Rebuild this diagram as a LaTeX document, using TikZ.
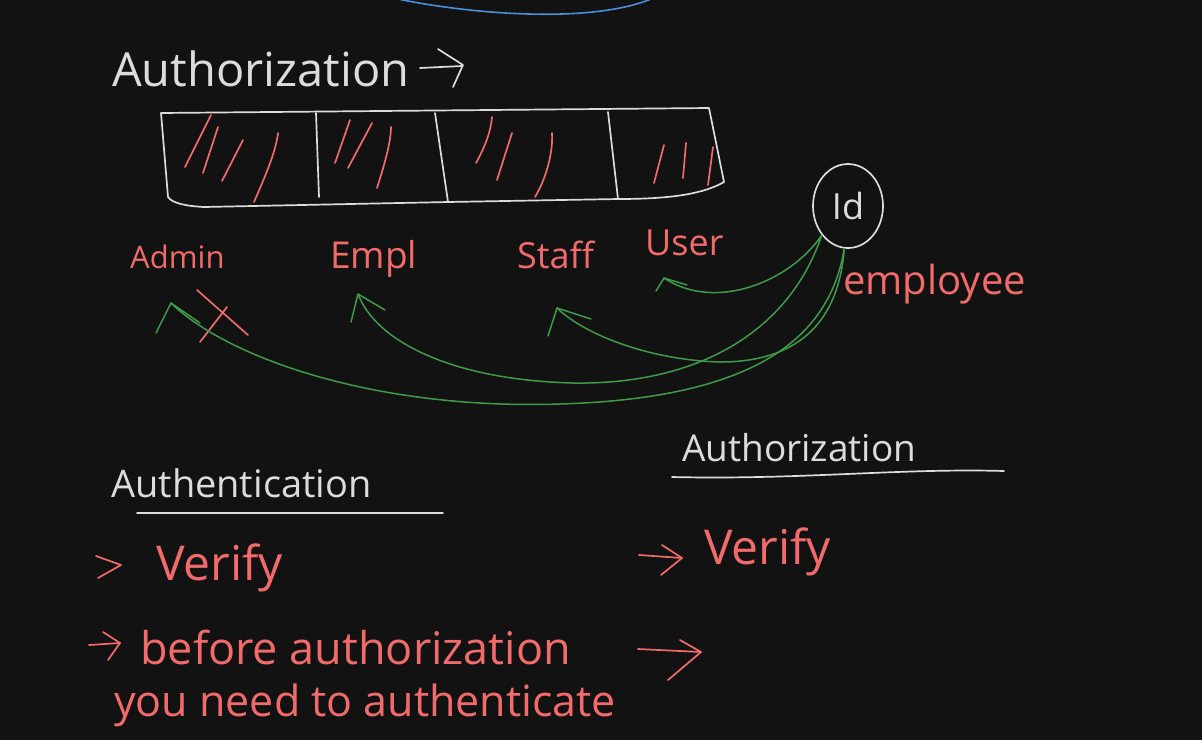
\documentclass[tikz,border=0pt]{standalone}
\usepackage{fontspec}
\setmainfont{Open Sans}
\usetikzlibrary{shapes.geometric,arrows.meta}
\definecolor{bg}{HTML}{121212}
\definecolor{inkw}{HTML}{DCDCDC}
\definecolor{inkr}{HTML}{F26B6B}
\definecolor{inkg}{HTML}{3F9B4A}
\definecolor{inkb}{HTML}{4A8FDC}
\tikzset{
  whiteink/.style={draw=inkw, line width=1.7pt, line cap=round, line join=round},
  redink/.style={draw=inkr, line width=1.7pt, line cap=round, line join=round},
  greenink/.style={draw=inkg, line width=1.5pt, line cap=round, line join=round},
  wtext/.style={text=inkw, anchor=base west, inner sep=0pt},
  rtext/.style={text=inkr, anchor=base west, inner sep=0pt},
}
\begin{document}
\begin{tikzpicture}[x=1pt,y=-1pt]
\fill[bg] (0,0) rectangle (1202,740);
\useasboundingbox (0,0) rectangle (1202,740);

% blue arc at top
\draw[draw=inkb, line width=1.6pt] (398,-1) .. controls (470,14) and (590,24) .. (651,-1);

% title
\node[wtext, font=\fontsize{47}{54}\selectfont] (title) at (112,86) {Authorization};
\coordinate (ta1) at (420,68);
\coordinate (ta2) at (462,66);
\draw[whiteink] (ta1) -- (ta2);
\draw[whiteink] (438,49) -- (463,65) -- (453,87);

% box
\draw[whiteink] (161,113) -- (709,108) -- (724,182) .. controls (700,196) and (660,199) .. (618,199)
  -- (448,202) -- (204,207) .. controls (185,206) and (172,203) .. (168,197) -- cycle;
\draw[whiteink] (316,113) -- (319,197);
\draw[whiteink] (435,113) -- (448,202);
\draw[whiteink] (608,112) -- (618,199);

% red slashes
\draw[redink] (185,167) -- (211,115);
\draw[redink] (203,173) -- (218,127);
\draw[redink] (222,181) -- (243,140);
\draw[redink] (254,202) .. controls (268,170) and (276,150) .. (278,133);
\draw[redink] (335,163) -- (350,120);
\draw[redink] (348,168) -- (372,123);
\draw[redink] (377,188) .. controls (386,160) and (391,140) .. (391,127);
\draw[redink] (476,163) .. controls (486,145) and (491,130) .. (492,117);
\draw[redink] (497,180) -- (512,133);
\draw[redink] (535,197) .. controls (548,175) and (553,150) .. (552,133);
\draw[redink] (654,183) -- (664,145);
\draw[redink] (683,178) -- (686,143);
\draw[redink] (708,185) -- (713,147);

% role labels
\node[rtext, font=\fontsize{31}{36}\selectfont] (admin) at (130,268) {Admin};
\node[rtext, font=\fontsize{37}{42}\selectfont] (empl) at (330,268) {Empl};
\node[rtext, font=\fontsize{36}{42}\selectfont] (staff) at (517,268) {Staff};
\node[rtext, font=\fontsize{36}{42}\selectfont] (user) at (645,255) {User};

% cross under Admin
\draw[redink] (197,290) -- (248,335);
\draw[redink] (227,307) -- (200,342);

% id circle
\node[draw=inkw, line width=1.7pt, ellipse, minimum width=70pt, minimum height=84pt, inner sep=0pt,
      text=inkw, font=\fontsize{36}{42}\selectfont] (id) at (848,206) {Id};
\node[rtext, font=\fontsize{40}{46}\selectfont] (emp) at (843,294) {employee};

% green connectors
\coordinate (uTip) at (664,278);
\coordinate (eTip) at (358,294);
\coordinate (sTip) at (557,308);
\coordinate (aTip) at (171,303);
\draw[greenink] (id.228) .. controls (790,282) and (715,312) .. (uTip);
\draw[greenink] (656,291) -- (uTip) -- (687,285);
\draw[greenink] (id.228) .. controls (790,330) and (700,385) .. (573,383) .. controls (450,380) and (375,340) .. (eTip);
\draw[greenink] (351,322) -- (eTip) -- (385,310);
\draw[greenink] (id.265) .. controls (838,330) and (790,362) .. (720,362) .. controls (650,360) and (585,335) .. (sTip);
\draw[greenink] (548,336) -- (sTip) -- (591,319);
\draw[greenink] (id.265) .. controls (830,335) and (760,398) .. (560,404) .. controls (380,410) and (230,360) .. (aTip);
\draw[greenink] (156,333) -- (aTip) -- (200,323);

% bottom headings
\node[wtext, font=\fontsize{38}{44}\selectfont] (authn) at (111,497) {Authentication};
\coordinate (u1a) at (137,513);
\coordinate (u1b) at (443,513);
\draw[whiteink] (u1a) -- (u1b);
\node[wtext, font=\fontsize{37}{42}\selectfont] (authz) at (682,461) {Authorization};
\coordinate (u2a) at (672,477);
\coordinate (u2b) at (1004,471);
\draw[whiteink] (u2a) .. controls (800,480) and (900,468) .. (u2b);

% left list
\coordinate (l1a) at (96,556);
\draw[redink] (l1a) -- (121,565) -- (98,578);
\node[rtext, font=\fontsize{48}{54}\selectfont] (ver1) at (156,580) {Verify};
\coordinate (l2a) at (89,645);
\coordinate (l2b) at (120,643);
\draw[redink] (l2a) -- (l2b);
\draw[redink] (103,632) -- (l2b) -- (108,660);
\node[rtext, font=\fontsize{45}{52}\selectfont] (bef) at (140,664) {before authorization};
\node[rtext, font=\fontsize{43}{50}\selectfont] (need) at (114,716) {you need to authenticate};

% right list
\coordinate (r1a) at (639,555);
\coordinate (r1b) at (682,558);
\draw[redink] (r1a) -- (r1b);
\draw[redink] (662,545) -- (r1b) -- (661,575);
\node[rtext, font=\fontsize{48}{54}\selectfont] (ver2) at (704,564) {Verify};
\coordinate (r2a) at (638,649);
\coordinate (r2b) at (701,652);
\draw[redink] (r2a) -- (r2b);
\draw[redink] (680,640) -- (r2b) -- (668,680);
\end{tikzpicture}
\end{document}
